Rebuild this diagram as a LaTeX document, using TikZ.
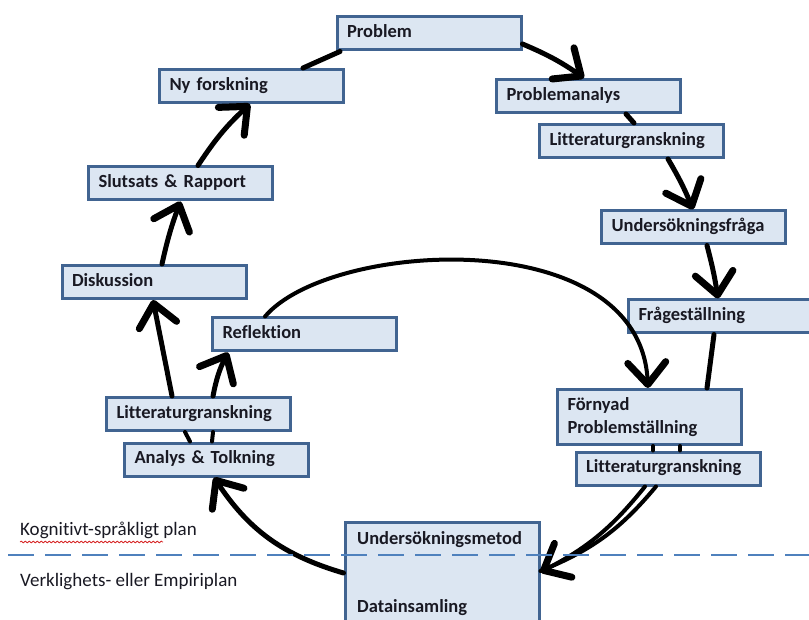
\documentclass[tikz,border=0pt]{standalone}
\usepackage{fontspec}
\setmainfont{Carlito}[Ligatures=NoCommon]
\usetikzlibrary{arrows.meta,decorations.pathmorphing}

\definecolor{boxfill}{RGB}{220,230,242}
\definecolor{boxline}{RGB}{65,100,145}
\definecolor{ink}{RGB}{25,25,35}
\definecolor{planline}{RGB}{79,129,189}
\definecolor{spellred}{RGB}{215,40,40}

\begin{document}
\begin{tikzpicture}[x=1pt,y=-1pt,
  panel/.style={draw=boxline, fill=boxfill, line width=3pt},
  boxfont/.style={text=ink, font=\fontsize{18.5}{23}\selectfont\bfseries},
  box/.style={panel, boxfont, minimum height=33pt, text width=164pt,
    inner xsep=10pt, inner ysep=4pt, align=left},
  onerow/.style={text height=13pt, text depth=4.5pt},
  link/.style={line width=5pt, line cap=round, line join=round},
  arr/.style={link, -{Straight Barb[length=22pt,width=38pt,line width=7pt,round]}},
  plantext/.style={anchor=base west, inner sep=0pt, text=ink,
    font=\fontsize{19}{23}\selectfont}
]
\useasboundingbox (0,0) rectangle (809,620);
\clip (0,0) rectangle (809,620);

% ---- boxes of the research cycle ----
\node[box, onerow] (prob)   at (429,33.5)  {Problem};
\node[box, onerow] (nyf)    at (251.5,86)  {Ny forskning};
\node[box, onerow] (pana)   at (588.5,96)  {Problemanalys};
\node[box, onerow] (lit1)   at (631.5,141) {Litteraturgranskning};
\node[box, onerow] (slut)   at (180.5,183.5) {Slutsats \& Rapport};
\node[box, onerow] (ufr)    at (693.5,227.5) {Undersökningsfråga};
\node[box, onerow] (disk)   at (154,282)   {Diskussion};
\node[box, onerow] (fst)    at (720.5,316.5) {Frågeställning};
\node[box, onerow] (refl)   at (304.5,334.5) {Reflektion};
\node[box, minimum height=55pt] (forn) at (649.5,417) {Förnyad\\Problemställning};
\node[box, onerow] (lit2)   at (668,468.5) {Litteraturgranskning};
\node[box, onerow] (lit3)   at (198.5,414) {Litteraturgranskning};
\node[box, onerow] (analys) at (216.5,459.5) {Analys \& Tolkning};

% method / data collection block straddling both planes
\node[panel, minimum width=194pt, minimum height=130pt, inner sep=0pt] (umet) at (442,587) {};
\node[boxfont, anchor=base west, inner sep=0pt] (umetA) at (357,544) {Undersökningsmetod};
\node[boxfont, anchor=base west, inner sep=0pt] (umetB) at (357,612) {Datainsamling};

% ---- connectors, clockwise round the outer loop ----
\draw[arr] ([yshift=-10.5pt]prob.east) to[bend left=6] ([xshift=-4.5pt]pana.north);
\draw[link] ([xshift=37.5pt]pana.south) -- ([xshift=2.5pt]lit1.north);
\draw[arr] ([xshift=36.5pt]lit1.south) to[bend left=4] ([xshift=-0.5pt]ufr.north);
\draw[arr] ([xshift=13.5pt]ufr.south) to[bend left=3] ([xshift=-2.5pt]fst.north);
\draw[link] ([xshift=-6.5pt]fst.south) -- ([xshift=57.5pt]forn.north);
\draw[link, line width=4pt] ([xshift=3.5pt]forn.south) -- ([xshift=-15pt]lit2.north);
\draw[link, line width=4pt] ([xshift=30.5pt]forn.south) -- ([xshift=12pt]lit2.north);
\draw[link, line width=4pt] ([xshift=-12pt]lit2.south) to[bend left=14] ([yshift=16pt]umet.east);
\draw[arr, line width=4pt] ([xshift=-23pt]lit2.south) to[bend left=12] ([yshift=15pt]umet.east);
\draw[arr] ([yshift=14pt]umet.west) to[bend left=20] ([xshift=-2.5pt]analys.south);
\draw[link, line width=4pt] ([xshift=-26.5pt]analys.north) -- ([xshift=-13.5pt]lit3.south);
\draw[link, line width=4pt] ([xshift=-4.5pt]analys.north) -- ([xshift=14.5pt]lit3.south);
\draw[arr] ([xshift=-26.5pt]lit3.north) -- ([xshift=-1pt]disk.south);
\draw[arr] ([xshift=14.5pt]lit3.north) to[bend left=8] ([xshift=-76.5pt]refl.south);
\draw[arr] ([xshift=8pt]disk.north) to[bend left=4] (slut.south);
\draw[arr] ([xshift=17.5pt]slut.north) to[bend left=7] ([xshift=-1.5pt]nyf.south);
\draw[link] ([xshift=51.5pt]nyf.north) -- ([xshift=-89pt]prob.south);

% inner loop: reflection back to the renewed problem
\draw[arr, line width=4pt] ([xshift=-39.5pt]refl.north) .. controls (330,240) and (640,222) .. ([xshift=-1.5pt]forn.north);

% ---- the two planes ----
\coordinate (planL) at (0,555);
\coordinate (planR) at (809,555);
\draw[planline, line width=2.5pt, dash pattern=on 26pt off 11pt, dash phase=29pt] (planL) -- (planR);
\node[plantext] (cog) at (20,535.5) {Kognitivt-språkligt plan};
\node[plantext] (emp) at (20,586.5) {Verklighets- eller Empiriplan};
\draw[spellred, line width=0.8pt, decorate,
  decoration={snake, amplitude=0.9pt, segment length=4pt}]
  ([yshift=-6.5pt]cog.base west) -- ++(143,0);
\end{tikzpicture}
\end{document}
